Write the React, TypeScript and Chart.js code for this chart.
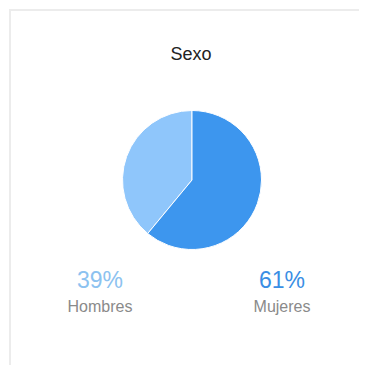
import React, { useEffect, useRef } from "react";
import { Chart, registerables } from "chart.js";

Chart.register(...registerables);

const title = "Sexo";
const categories = ["Hombres", "Mujeres"];
const values = [39, 61];
const sliceColors = ["#8fc6fb", "#3d96ee"];
const percentColors = ["#8cc2f0", "#3a8ee4"];

const FONT = "'Liberation Sans', Helvetica, Arial, sans-serif";

export default function App() {
  const ref = useRef<HTMLCanvasElement | null>(null);

  useEffect(() => {
    if (!ref.current) return;
    const total = values.reduce((a, b) => a + b, 0);
    const chart = new Chart(ref.current, {
      type: "pie",
      data: {
        labels: categories,
        datasets: [
          {
            data: values,
            backgroundColor: sliceColors,
            borderColor: "#ffffff",
            borderWidth: 1,
          },
        ],
      },
      options: {
        animation: false,
        responsive: false,
        rotation: -(values[0] / total) * 360,
        layout: { padding: 0 },
        plugins: {
          legend: { display: false },
          tooltip: { enabled: false },
          title: { display: false },
        },
      },
    });
    return () => chart.destroy();
  }, []);

  const total = values.reduce((a, b) => a + b, 0);
  const labelX = [92, 274];

  return (
    <div style={{ position: "relative", width: 351, height: 357, fontFamily: FONT }}>
      <div
        style={{
          position: "absolute",
          left: 1,
          top: 1,
          width: 358,
          height: 356,
          borderLeft: "2px solid #ececec",
          borderTop: "2px solid #ececec",
          boxSizing: "border-box",
        }}
      />
      <div
        style={{
          position: "absolute",
          left: 183,
          top: 46,
          transform: "translate(-50%, -50%)",
          fontSize: 18,
          lineHeight: 1,
          color: "#222222",
          whiteSpace: "nowrap",
        }}
      >
        {title}
      </div>
      <canvas
        ref={ref}
        width={140}
        height={140}
        style={{ position: "absolute", left: 114, top: 102, width: 140, height: 140 }}
      />
      {categories.map((c, i) => (
        <React.Fragment key={c}>
          <div
            style={{
              position: "absolute",
              left: labelX[i],
              top: 272,
              transform: "translate(-50%, -50%)",
              fontSize: 23,
              lineHeight: 1,
              color: percentColors[i],
              whiteSpace: "nowrap",
            }}
          >
            {Math.round((values[i] / total) * 100)}%
          </div>
          <div
            style={{
              position: "absolute",
              left: labelX[i],
              top: 299,
              transform: "translate(-50%, -50%)",
              fontSize: 16,
              lineHeight: 1,
              color: "#8a8a8a",
              whiteSpace: "nowrap",
            }}
          >
            {c}
          </div>
        </React.Fragment>
      ))}
    </div>
  );
}
